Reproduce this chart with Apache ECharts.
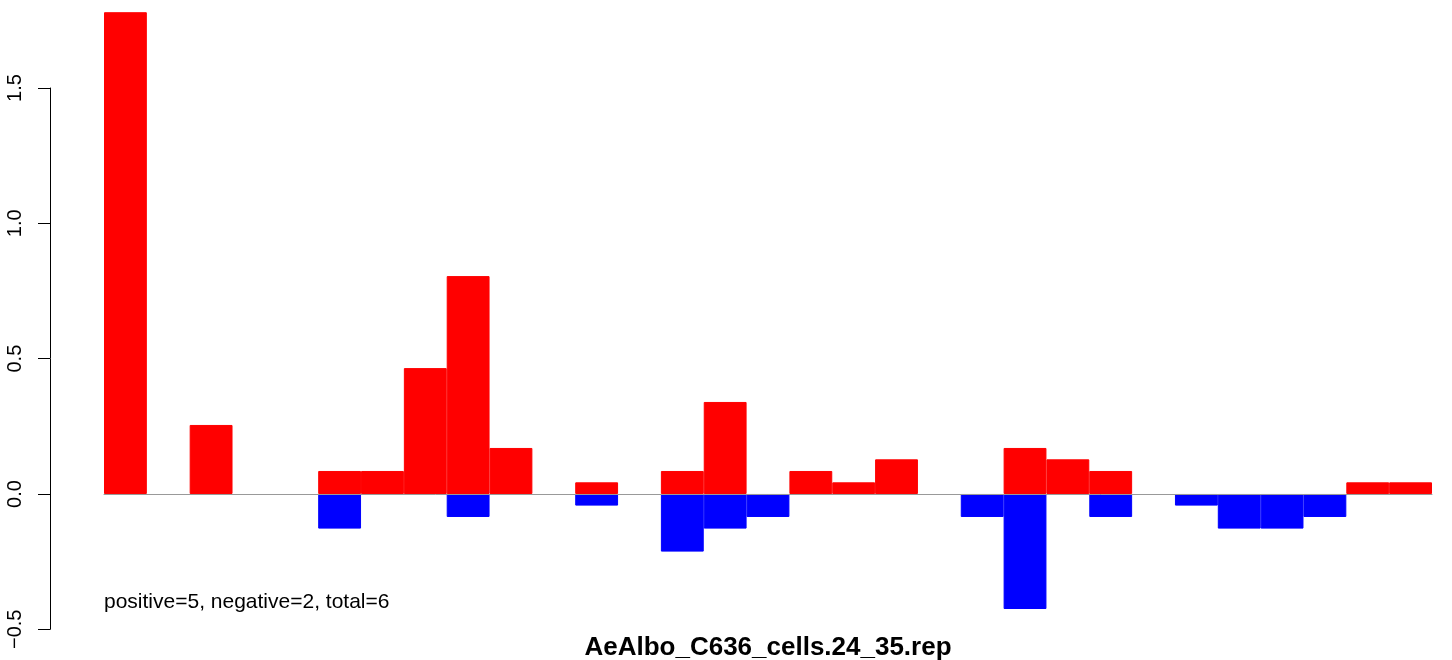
<!DOCTYPE html>
<html>
<head>
<meta charset="utf-8">
<script src="https://cdn.jsdelivr.net/npm/echarts@6/dist/echarts.min.js"></script>
<style>
html,body{margin:0;padding:0;background:#fff;}
#chart{width:1452px;height:660px;}
</style>
</head>
<body>
<div id="chart"></div>
<script>
const categories = Array.from({length: 31}, (_, i) => String(i + 1));
const positiveValues = [1.78, null, 0.255, null, null, 0.085, 0.085, 0.465, 0.805, 0.17, null, 0.043, null, 0.085, 0.34, null, 0.085, 0.043, 0.128, null, null, 0.17, 0.128, 0.085, null, null, null, null, null, 0.043, 0.043];
const negativeValues = [null, null, null, null, null, -0.128, null, null, -0.085, null, null, -0.043, null, -0.213, -0.128, -0.085, null, null, null, null, -0.085, -0.425, null, -0.085, null, -0.043, -0.128, -0.128, -0.085, null, null];
const yTicks = [-0.5, 0.0, 0.5, 1.0, 1.5];
const titleText = 'AeAlbo_C636_cells.24_35.rep';
const noteText = 'positive=5, negative=2, total=6';

const chart = echarts.init(document.getElementById('chart'), null, {renderer: 'canvas'});
const font = 'Liberation Sans, Arial, Helvetica, sans-serif';
chart.setOption({
  animation: false,
  backgroundColor: '#ffffff',
  title: [
    {text: titleText, left: 768, top: 635, textAlign: 'center', padding: 0,
     textStyle: {fontFamily: font, fontWeight: 'bold', fontSize: 26, color: '#000'}},
    {text: noteText, left: 104, top: 592, padding: 0,
     textStyle: {fontFamily: font, fontWeight: 'normal', fontSize: 21, color: '#000'}}
  ],
  grid: {left: 104, right: 20, top: 88, bottom: 30.7, containLabel: false},
  xAxis: {
    type: 'category', data: categories, boundaryGap: true,
    axisLine: {show: true, onZero: true, lineStyle: {color: '#999999', width: 1}},
    axisTick: {show: false}, axisLabel: {show: false}, splitLine: {show: false}, z: 5
  },
  yAxis: {
    type: 'value', min: yTicks[0], max: yTicks[yTicks.length - 1], interval: 0.5,
    offset: 54,
    axisLine: {show: true, lineStyle: {color: '#000', width: 1}},
    axisTick: {show: true, length: 12, lineStyle: {color: '#000', width: 1}},
    axisLabel: {show: true, rotate: 90, margin: 25, fontFamily: font, fontSize: 20, color: '#000',
      formatter: v => (v < 0 ? '\u2212' : '') + Math.abs(v).toFixed(1)},
    splitLine: {show: false}
  },
  series: [
    {type: 'bar', data: positiveValues, barWidth: '100%', barGap: '-100%', clip: false,
     itemStyle: {color: '#ff0000', borderColor: '#ff0000', borderWidth: 1}},
    {type: 'bar', data: negativeValues, barWidth: '100%', barGap: '-100%', clip: false,
     itemStyle: {color: '#0000ff', borderColor: '#0000ff', borderWidth: 1}}
  ]
});
</script>
</body>
</html>
